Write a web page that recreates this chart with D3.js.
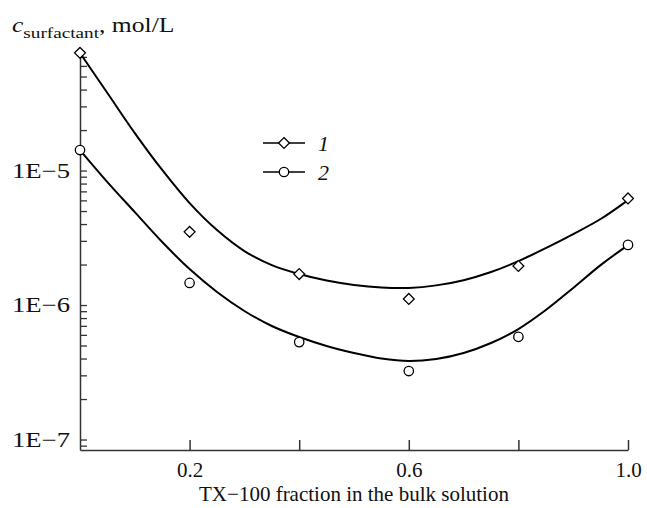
<!DOCTYPE html>
<html>
<head>
<meta charset="utf-8">
<script src="https://cdn.jsdelivr.net/npm/d3@7"></script>
<style>
  body { margin: 0; background: #fff; }
  text { font-family: "Liberation Serif", "Times New Roman", serif; fill: #111; }
</style>
</head>
<body>
<script>
var width = 647, height = 508;

// measured points
var fractions = [0, 0.2, 0.4, 0.6, 0.8, 1.0];
var series1 = [7.5e-5, 3.5e-6, 1.7e-6, 1.11e-6, 1.95e-6, 6.2e-6];
var series2 = [1.42e-5, 1.46e-6, 5.3e-7, 3.23e-7, 5.8e-7, 2.8e-6];

// fitted curves, every 0.05
var fitX = [0, 0.05, 0.1, 0.15, 0.2, 0.25, 0.3, 0.35, 0.4, 0.45, 0.5,
            0.55, 0.6, 0.65, 0.7, 0.75, 0.8, 0.85, 0.9, 0.95, 1.0];
var fit1 = [7.48e-5, 3.77e-5, 1.9e-5, 1.01e-5, 5.73e-6, 3.61e-6, 2.52e-6, 1.98e-6, 1.7e-6, 1.52e-6, 1.41e-6,
            1.35e-6, 1.34e-6, 1.4e-6, 1.53e-6, 1.76e-6, 2.12e-6, 2.65e-6, 3.37e-6, 4.36e-6, 6.03e-6];
var fit2 = [1.42e-5, 8.21e-6, 4.91e-6, 2.94e-6, 1.85e-6, 1.25e-6, 9.03e-7, 6.98e-7, 5.78e-7, 4.96e-7, 4.4e-7,
            4.0e-7, 3.83e-7, 3.97e-7, 4.4e-7, 5.22e-7, 6.63e-7, 9.18e-7, 1.34e-6, 1.98e-6, 2.79e-6];

var seriesNames = ["1", "2"];
var xTicks = [0.2, 0.4, 0.6, 0.8, 1.0];
var xLabelled = [0.2, 0.6, 1.0];

var svg = d3.select('body').append('svg').attr('width', width).attr('height', height);

var x = d3.scaleLinear().domain([0, 1]).range([80, 628]);
var y = d3.scaleLog().domain([Math.pow(10, -7.078), Math.pow(10, -4.126)]).range([450, 53]);

// log ticks 1..9 per decade
var yTicks = [];
for (var e = -8; e <= -5; e++) {
  for (var m = 1; m <= 9; m++) {
    var v = m * Math.pow(10, e);
    if (v >= y.domain()[0] && v <= y.domain()[1]) yTicks.push(v);
  }
}

var xAxis = d3.axisBottom(x)
  .tickValues(xTicks)
  .tickSizeInner(-10).tickSizeOuter(0).tickPadding(12)
  .tickFormat(function(d) {
    return xLabelled.some(function(t) { return Math.abs(t - d) < 1e-9; }) ? d3.format('.1f')(d) : '';
  });

var yAxis = d3.axisLeft(y)
  .tickValues(yTicks)
  .tickSizeInner(-7).tickSizeOuter(0).tickPadding(10)
  .tickFormat(function(d) {
    var l = Math.log10(d);
    return Math.abs(l - Math.round(l)) < 1e-6 ? '1E\u2212' + (-Math.round(l)) : '';
  });

var gx = svg.append('g').attr('transform', 'translate(0,450)').call(xAxis);
var gy = svg.append('g').attr('transform', 'translate(80,0)').call(yAxis);

[gx, gy].forEach(function(g) {
  g.selectAll('path, line').attr('stroke', '#333').attr('stroke-width', 1.5);
  g.selectAll('text').attr('font-size', 21).attr('font-family', '"Liberation Serif", serif').attr('fill', '#111');
});
gy.selectAll('.tick line').attr('stroke-width', 1.3);
// the y labels are drawn wide in the original
gy.selectAll('.tick text').filter(function() { return this.textContent !== ''; })
  .attr('textLength', 58).attr('lengthAdjust', 'spacingAndGlyphs');

// curves
var line = d3.line()
  .x(function(d) { return x(d[0]); })
  .y(function(d) { return y(d[1]); })
  .curve(d3.curveCatmullRom);

[fit1, fit2].forEach(function(f) {
  svg.append('path')
    .datum(fitX.map(function(v, i) { return [v, f[i]]; }))
    .attr('d', line)
    .attr('fill', 'none')
    .attr('stroke', '#000')
    .attr('stroke-width', 2);
});

var diamond = d3.symbol().type(d3.symbolDiamond2 || d3.symbolDiamond).size(75);

svg.append('g').selectAll('path')
  .data(fractions.map(function(v, i) { return [v, series1[i]]; }))
  .join('path')
  .attr('d', diamond)
  .attr('transform', function(d) { return 'translate(' + x(d[0]) + ',' + y(d[1]) + ')'; })
  .attr('fill', '#fff').attr('stroke', '#000').attr('stroke-width', 1.3);

svg.append('g').selectAll('circle')
  .data(fractions.map(function(v, i) { return [v, series2[i]]; }))
  .join('circle')
  .attr('cx', function(d) { return x(d[0]); })
  .attr('cy', function(d) { return y(d[1]); })
  .attr('r', 4.7)
  .attr('fill', '#fff').attr('stroke', '#000').attr('stroke-width', 1.3);

// legend
var legend = svg.append('g').selectAll('g')
  .data(seriesNames)
  .join('g')
  .attr('transform', function(d, i) { return 'translate(263,' + (143 + i * 29) + ')'; });

legend.append('line').attr('x1', 0).attr('x2', 42).attr('stroke', '#000').attr('stroke-width', 1.5);
legend.each(function(d, i) {
  var g = d3.select(this);
  if (i === 0) {
    g.append('path').attr('d', diamond).attr('transform', 'translate(21,0)')
      .attr('fill', '#fff').attr('stroke', '#000').attr('stroke-width', 1.3);
  } else {
    g.append('circle').attr('cx', 21).attr('r', 4.7)
      .attr('fill', '#fff').attr('stroke', '#000').attr('stroke-width', 1.3);
  }
});
legend.append('text')
  .attr('x', 55).attr('y', 8)
  .attr('font-size', 22).attr('font-style', 'italic')
  .text(function(d) { return d; });

// axis titles
var title = svg.append('text').attr('transform', 'translate(12,32) scale(1.28,1)').attr('font-size', 20);
title.append('tspan').attr('font-style', 'italic').text('c');
title.append('tspan').attr('font-size', 15).attr('dy', 6).text('surfactant');
title.append('tspan').attr('dy', -6).text(', mol/L');

svg.append('text')
  .attr('x', 354).attr('y', 501)
  .attr('text-anchor', 'middle')
  .attr('font-size', 21)
  .text('TX\u2212100 fraction in the bulk solution');
</script>
</body>
</html>
